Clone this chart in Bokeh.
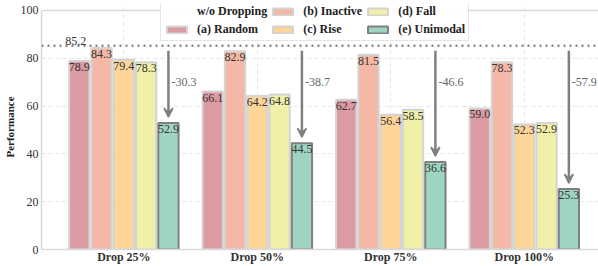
from bokeh.plotting import figure
from bokeh.models import (Range1d, FixedTicker, Legend, LegendItem, Span, Arrow,
                          VeeHead, ColumnDataSource, Label)
from bokeh.core.properties import value
from bokeh.embed import file_html
from bokeh.resources import INLINE

groups = ["Drop 25%", "Drop 50%", "Drop 75%", "Drop 100%"]
series_names = ["(a) Random", "(b) Inactive", "(c) Rise", "(d) Fall", "(e) Unimodal"]
random_vals = [78.9, 66.1, 62.7, 59.0]
inactive_vals = [84.3, 82.9, 81.5, 78.3]
rise_vals = [79.4, 64.2, 56.4, 52.3]
fall_vals = [78.3, 64.8, 58.5, 52.9]
unimodal_vals = [52.9, 44.5, 36.6, 25.3]
baseline = 85.2
diff_labels = ["-30.3", "-38.7", "-46.6", "-57.9"]
y_ticks = [0, 20, 40, 60, 80, 100]

colors = ["#dc9aa2", "#f6b8a6", "#fcd597", "#f1f0a9", "#9ed5c1"]
edges = ["#d4d4d4", "#d4d4d4", "#d4d4d4", "#d4d4d4", "#808080"]
offsets = [-0.334, -0.167, 0.0, 0.167, 0.334]
series = [random_vals, inactive_vals, rise_vals, fall_vals, unimodal_vals]

FONT = "Liberation Serif"

p = figure(width=598, height=266, output_backend="svg", toolbar_location=None,
           x_range=Range1d(-0.617, 3.556), y_range=Range1d(0, 102.5),
           min_border_left=0, min_border_right=0, min_border_top=4, min_border_bottom=0)

p.outline_line_color = None
p.background_fill_color = "white"
p.add_layout(Span(location=100, dimension="width", line_color="#d9d9d9", line_width=1.5))

# grids
p.xgrid.ticker = FixedTicker(ticks=list(range(len(groups))))
p.xgrid.grid_line_color = "#e6e6e6"
p.xgrid.grid_line_dash = "4 3"
p.xgrid.bounds = (0, 100)
p.ygrid.grid_line_color = "#e6e6e6"
p.ygrid.grid_line_dash = "4 3"

# axes
p.xaxis.ticker = FixedTicker(ticks=list(range(len(groups))))
p.xaxis.major_label_overrides = {i: g for i, g in enumerate(groups)}
p.yaxis.ticker = FixedTicker(ticks=y_ticks)
p.yaxis.bounds = (0, 100)
for ax in (p.xaxis[0], p.yaxis[0]):
    ax.axis_line_color = "#d9d9d9"
    ax.axis_line_width = 1.5
    ax.major_tick_line_color = None
    ax.minor_tick_line_color = None
    ax.major_tick_out = 0
    ax.major_tick_in = 0
    ax.major_label_text_font = FONT
    ax.major_label_text_font_size = "12px"
    ax.major_label_text_color = "#333333"
    ax.major_label_standoff = 3
p.xaxis.major_label_text_font_style = "bold"
p.xaxis.major_label_standoff = 0
p.yaxis.axis_label = "Performance"
p.yaxis.axis_label_text_font = FONT
p.yaxis.axis_label_text_font_size = "11px"
p.yaxis.axis_label_text_font_style = "bold"
p.yaxis.axis_label_text_color = "#222222"
p.yaxis.axis_label_standoff = 2

# baseline (w/o Dropping)
p.add_layout(Span(location=baseline, dimension="width", line_color="#888888",
                  line_width=2.5, line_dash="2 4"))
base_r = p.line(x=[], y=[], line_color="#888888", line_width=2.5, line_dash="2 4")
p.add_layout(Label(x=-0.36, y=baseline, text=f"{baseline:.1f}", text_align="center",
                   text_baseline="bottom", y_offset=1, text_font=FONT,
                   text_font_size="12px", text_color="#333333"))

bar_renderers = []
for vals, off, c, e in zip(series, offsets, colors, edges):
    xs = [i + off for i in range(len(groups))]
    src = ColumnDataSource(dict(x=xs, top=vals, lab=[f"{v:.1f}" for v in vals]))
    r = p.vbar(x="x", top="top", width=0.152, source=src, fill_color=c,
               line_color=e, line_width=2)
    bar_renderers.append(r)
    p.text(x="x", y="top", text="lab", source=src, text_align="center",
           text_baseline="top", y_offset=2, text_font=value(FONT),
           text_font_size="12px", text_color="#333333")

# arrows with drop labels
arrow_start = baseline - 2.0
for i, (u, d) in enumerate(zip(unimodal_vals, diff_labels)):
    xx = i + offsets[4]
    p.add_layout(Arrow(x_start=xx, y_start=arrow_start, x_end=xx, y_end=u + 2.5,
                       line_color="#808080", line_width=2.5,
                       end=VeeHead(size=9, line_color="#808080", fill_color="#808080",
                                   line_width=1.5)))
    p.add_layout(Label(x=xx, y=baseline - 15, text=d, x_offset=3,
                       text_align="left", text_baseline="middle", text_font=FONT,
                       text_font_size="12px", text_color="#666666"))

items = [LegendItem(label="w/o Dropping", renderers=[base_r])]
items += [LegendItem(label=n, renderers=[r]) for n, r in zip(series_names, bar_renderers)]
legend = Legend(items=items, orientation="vertical", nrows=2,
                location=(119, 208), label_text_font=FONT, label_text_font_size="12px",
                label_text_font_style="bold", label_text_color="#222222",
                glyph_width=25, glyph_height=9, label_height=12, label_standoff=8,
                spacing=3, padding=3, margin=0, border_line_color="#cccccc",
                border_line_width=1, background_fill_alpha=0.9)
p.add_layout(legend, "center")

open("out.html", "w").write(file_html(p, INLINE))
